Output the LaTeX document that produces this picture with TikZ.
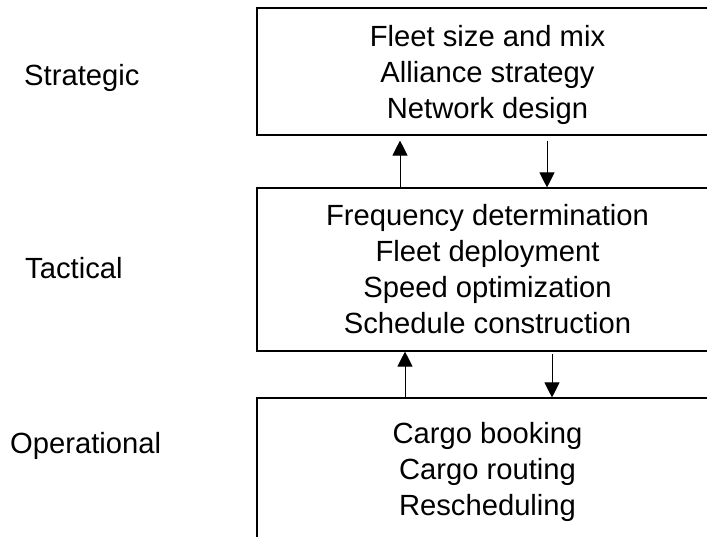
\documentclass[tikz,border=0pt]{standalone}
\usepackage{fontspec}
\setmainfont{Liberation Sans}
\usetikzlibrary{arrows.meta}

\begin{document}
\begin{tikzpicture}[x=1pt, y=-1pt,
  every node/.style={font=\fontsize{29.2}{36}\selectfont},
  levelbox/.style={draw, line width=1.1pt, inner sep=0pt, align=center,
    minimum width=461pt},
  levellabel/.style={anchor=base west, inner sep=0pt},
  flow/.style={line width=0.9pt, -{Triangle[width=15pt,length=15pt]}}
]
\useasboundingbox (0,0) rectangle (707,536);
\clip (0,0) rectangle (707,536);

% decision levels
\node[levelbox, minimum height=127pt] (strat) at (487.5,71.5)
  {\rule{0pt}{29pt}Fleet size and mix\\Alliance strategy\\Network design};
\node[levelbox, minimum height=163pt] (tact) at (487.5,269.5)
  {Frequency determination\\Fleet deployment\\Speed optimization\\Schedule construction};
\node[levelbox, minimum height=144pt] (oper) at (487.5,470)
  {\rule{0pt}{25pt}Cargo booking\\Cargo routing\\Rescheduling};

% level names
\node[levellabel] (lstrat) at (24,85) {Strategic};
\node[levellabel] (ltact) at (25,278) {Tactical};
\node[levellabel] (loper) at (10,453) {Operational};

% arrow columns
\coordinate (c1) at (400,0);
\coordinate (c2) at (547,0);
\coordinate (c3) at (405,0);
\coordinate (c4) at (552,0);

% feedback between levels
\draw[flow] (tact.north -| c1) -- ([yshift=-5pt]strat.south -| c1);
\draw[flow] ([yshift=-5pt]strat.south -| c2) -- (tact.north -| c2);
\draw[flow] (oper.north -| c3) -- (tact.south -| c3);
\draw[flow] ([yshift=-2pt]tact.south -| c4) -- (oper.north -| c4);
\end{tikzpicture}
\end{document}
